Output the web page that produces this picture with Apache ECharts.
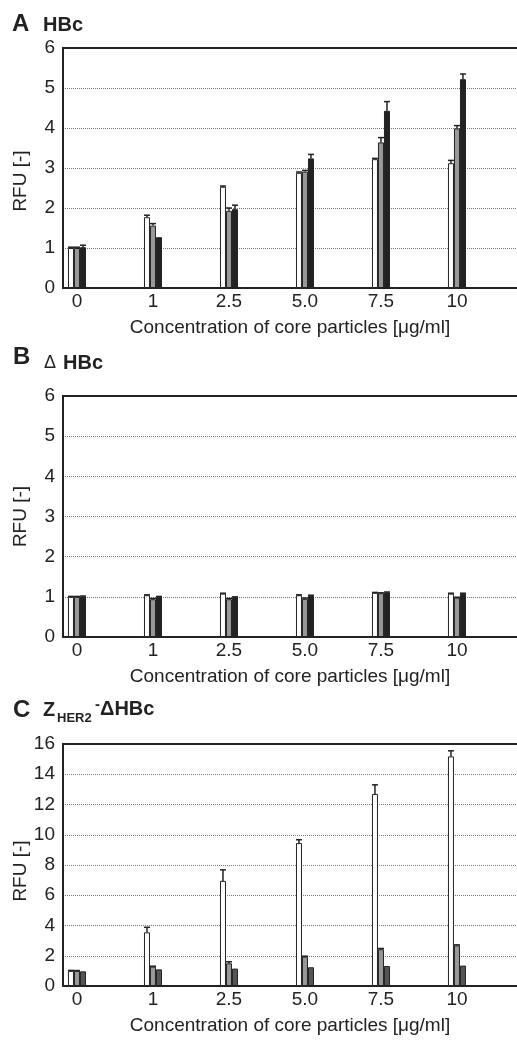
<!DOCTYPE html>
<html>
<head>
<meta charset="utf-8">
<script src="https://cdn.jsdelivr.net/npm/echarts@6/dist/echarts.min.js"></script>
<style>
  html, body { margin: 0; padding: 0; background: #fff; }
  #chart { width: 517px; height: 1043px; }
</style>
</head>
<body>
<div id="chart"></div>
<script>
// x categories (core particle concentration, µg/ml)
var catLabels = ['0', '1', '2.5', '5.0', '7.5', '10']
var catPos = [0, 1, 2, 3, 4, 5]

// A: HBc
var hbcWhite = [1.0, 1.77, 2.53, 2.88, 3.22, 3.12]
var hbcWhiteErr = [0.02, 0.05, 0.02, 0.02, 0.02, 0.07]
var hbcGrey = [1.0, 1.56, 1.93, 2.91, 3.64, 3.99]
var hbcGreyErr = [0.02, 0.05, 0.07, 0.03, 0.12, 0.07]
var hbcBlack = [1.02, 1.27, 1.97, 3.24, 4.43, 5.22]
var hbcBlackErr = [0.05, 0.0, 0.1, 0.1, 0.23, 0.13]

// B: delta HBc
var dWhite = [1.0, 1.04, 1.08, 1.04, 1.1, 1.08]
var dWhiteErr = [0.01, 0.01, 0.01, 0.01, 0.01, 0.01]
var dGrey = [1.0, 0.94, 0.94, 0.95, 1.09, 0.98]
var dGreyErr = [0.01, 0.02, 0.02, 0.02, 0.01, 0.01]
var dBlack = [1.01, 1.0, 0.99, 1.03, 1.11, 1.08]
var dBlackErr = [0.01, 0.01, 0.01, 0.01, 0.01, 0.01]

// C: Z_HER2-delta HBc
var zWhite = [1.0, 3.55, 6.95, 9.45, 12.7, 15.18]
var zWhiteErr = [0.03, 0.33, 0.73, 0.22, 0.6, 0.37]
var zGrey = [1.0, 1.28, 1.5, 1.94, 2.43, 2.69]
var zGreyErr = [0.02, 0.03, 0.1, 0.03, 0.05, 0.03]
var zDark = [0.97, 1.1, 1.15, 1.24, 1.32, 1.35]
var zDarkErr = [0.0, 0.0, 0.0, 0.0, 0.0, 0.0]

var yMaxA = 6, yMaxB = 6, yMaxC = 16
var yStepA = 1, yStepB = 1, yStepC = 2

var FONT = 'Liberation Sans, Arial, sans-serif'
var INK = '#222'
var BAR_W = 6

var chart = echarts.init(document.getElementById('chart'))

function pairs (vals) {
  return vals.map(function (v, i) { return [catPos[i], v] })
}
function errPairs (vals, errs) {
  return vals.map(function (v, i) { return [catPos[i], v, errs[i]] })
}

// x axes: bottom with labels, top only as frame line
function xAxes (g) {
  var bottom = {
    type: 'value', gridIndex: g, position: 'bottom',
    min: -0.184, max: 5.79,
    axisLine: { show: true, onZero: false, lineStyle: { color: INK, width: 2 } },
    axisTick: { show: false },
    splitLine: { show: false },
    axisLabel: {
      customValues: catPos,
      formatter: function (v) { return catLabels[Math.round(v)] },
      color: INK, fontFamily: FONT, fontSize: 19, margin: 4
    },
    name: 'Concentration of core particles [\u03bcg/ml]',
    nameLocation: 'middle', nameGap: 30, nameMoveOverlap: false,
    nameTextStyle: { color: INK, fontFamily: FONT, fontSize: 19 }
  }
  var top = {
    type: 'value', gridIndex: g, position: 'top',
    min: -0.184, max: 5.79,
    axisLine: { show: true, onZero: false, lineStyle: { color: INK, width: 2 } },
    axisTick: { show: false }, axisLabel: { show: false }, splitLine: { show: false }
  }
  return [bottom, top]
}

function yAxis (g, max, step, namePad) {
  return {
    type: 'value', gridIndex: g, min: 0, max: max, interval: step,
    axisLine: { show: true, onZero: false, lineStyle: { color: INK, width: 2 } },
    axisTick: { show: false },
    splitLine: { show: true, lineStyle: { color: '#777', width: 1, type: [1, 1] } },
    axisLabel: { color: INK, fontFamily: FONT, fontSize: 19, margin: 8 },
    name: 'RFU [-]', nameLocation: 'middle', nameGap: 33, nameMoveOverlap: false,
    nameTextStyle: { color: INK, fontFamily: FONT, fontSize: 19, padding: namePad }
  }
}

function bars (g, vals, color) {
  return {
    type: 'bar', xAxisIndex: g * 2, yAxisIndex: g,
    data: pairs(vals), barWidth: BAR_W, barGap: '0%',
    itemStyle: { color: color, borderColor: INK, borderWidth: 1 },
    silent: true, z: 2
  }
}

function errBars (g, vals, errs, k) {
  return {
    type: 'custom', xAxisIndex: g * 2, yAxisIndex: g,
    data: errPairs(vals, errs), z: 3, silent: true,
    renderItem: function (params, api) {
      var x = api.value(0), v = api.value(1), e = api.value(2)
      if (!e) return
      var p = api.coord([x, v])
      var q = api.coord([x, v + e])
      var cx = p[0] + (k - 1) * BAR_W
      var st = { stroke: INK, lineWidth: 1.5 }
      return {
        type: 'group',
        children: [
          { type: 'line', shape: { x1: cx, y1: p[1], x2: cx, y2: q[1] }, style: st },
          { type: 'line', shape: { x1: cx - BAR_W / 2, y1: q[1], x2: cx + BAR_W / 2, y2: q[1] }, style: st }
        ]
      }
    }
  }
}

function panelSeries (g, w, we, m, me, d, de, darkColor) {
  return [
    bars(g, w, '#fff'), bars(g, m, '#999'), bars(g, d, darkColor),
    errBars(g, w, we, 0), errBars(g, m, me, 1), errBars(g, d, de, 2)
  ]
}

function txt (x, y, s, size, bold) {
  return {
    type: 'text', x: x, y: y, silent: true,
    style: {
      text: s, fill: INK, fontFamily: FONT, fontSize: size,
      fontWeight: bold ? 'bold' : 'normal', verticalAlign: 'middle'
    }
  }
}

var option = {
  animation: false,
  backgroundColor: '#fff',
  grid: [
    { left: 63, right: 0, top: 48, height: 240, outerBoundsMode: 'none' },
    { left: 63, right: 0, top: 396, height: 241, outerBoundsMode: 'none' },
    { left: 63, right: 0, top: 744, height: 242, outerBoundsMode: 'none' }
  ],
  xAxis: [].concat(xAxes(0), xAxes(1), xAxes(2)),
  yAxis: [
    yAxis(0, yMaxA, yStepA, [0, 26, 0, 0]),
    yAxis(1, yMaxB, yStepB, 0),
    yAxis(2, yMaxC, yStepC, [0, 12, 0, 0])
  ],
  series: [].concat(
    panelSeries(0, hbcWhite, hbcWhiteErr, hbcGrey, hbcGreyErr, hbcBlack, hbcBlackErr, '#222'),
    panelSeries(1, dWhite, dWhiteErr, dGrey, dGreyErr, dBlack, dBlackErr, '#222'),
    panelSeries(2, zWhite, zWhiteErr, zGrey, zGreyErr, zDark, zDarkErr, '#555')
  ),
  graphic: [
    txt(12, 24, 'A', 24, true),
    txt(43, 25, 'HBc', 20, true),
    txt(13, 357, 'B', 24, true),
    txt(44, 363, '\u0394', 18, false),
    txt(63, 363, 'HBc', 20, true),
    txt(13, 710, 'C', 24, true),
    txt(43, 710, 'Z', 20, true),
    txt(57, 718, 'HER2', 13, true),
    txt(95, 705, '-', 15, true),
    txt(100, 709, '\u0394HBc', 20, true)
  ]
}

chart.setOption(option)
window.addEventListener('resize', function () {
  chart.resize()
})
</script>
</body>
</html>
